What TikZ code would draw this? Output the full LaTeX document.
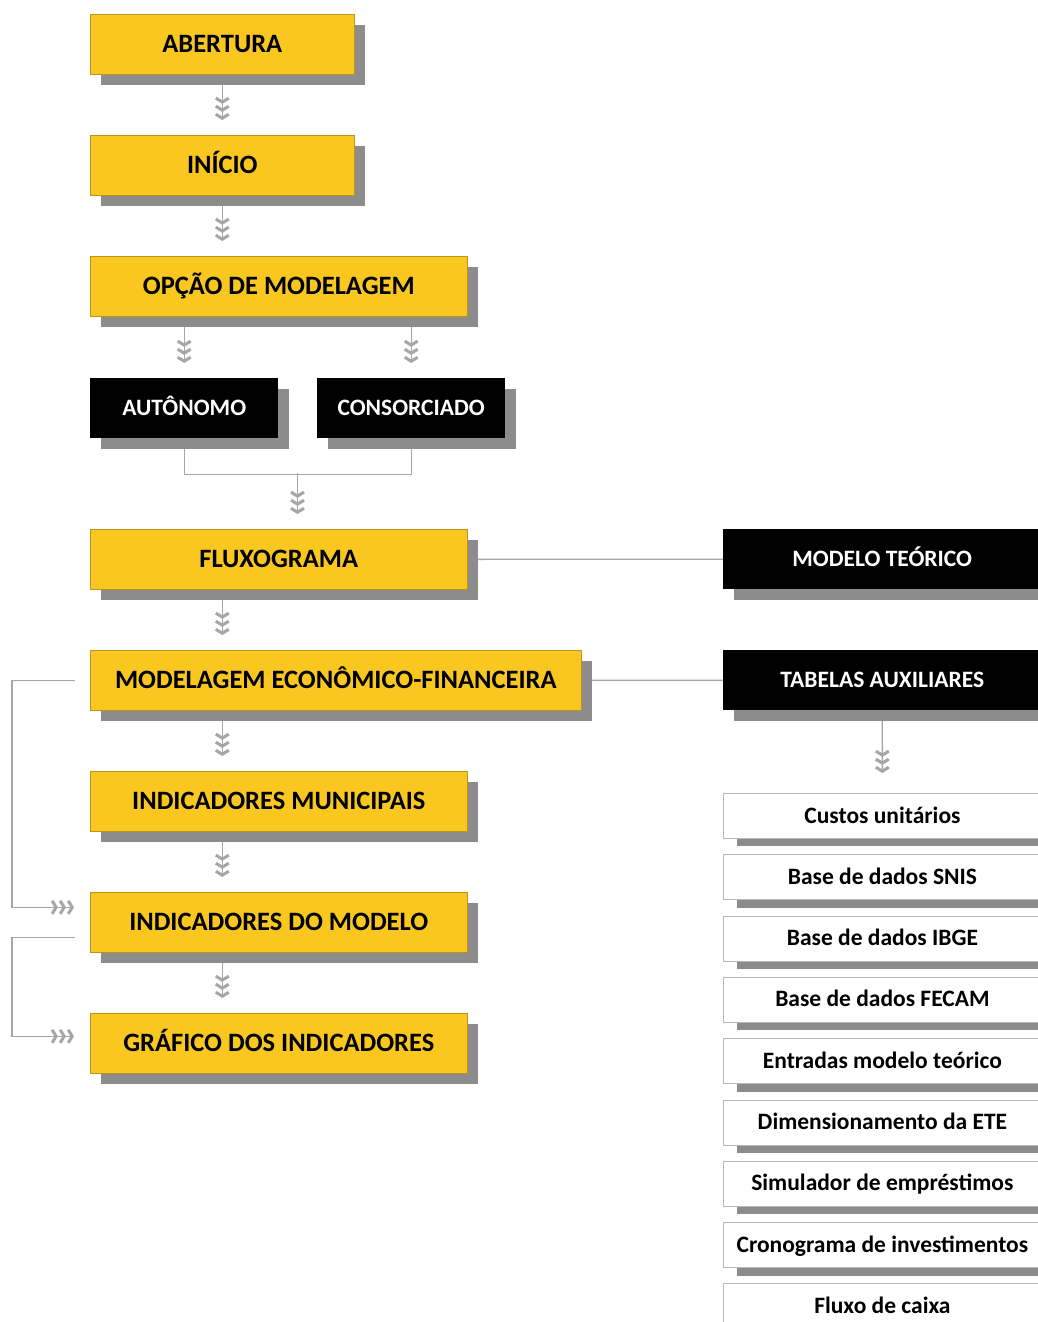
\documentclass[tikz,border=0pt]{standalone}
\usepackage{fontspec}
\setmainfont{Carlito}
\usetikzlibrary{arrows.meta, positioning, shadows, backgrounds}
\definecolor{amarelo}{HTML}{F9C71F}
\definecolor{sombra}{HTML}{8C8C8C}
\definecolor{linha}{HTML}{A6A6A6}

\begin{document}
\begin{tikzpicture}[x=1pt, y=-1pt,
    chev/.tip={Straight Barb[length=4pt, width=13pt, line width=3pt]},
    caixa/.style={anchor=north west, inner sep=0pt},
    amarela/.style={caixa, draw=amarelo!75!black, line width=0.6pt, fill=amarelo, minimum height=60pt, text height=21.2pt, text depth=4.2pt, font=\fontsize{26.5}{30}\selectfont\bfseries, drop shadow={shadow xshift=11pt, shadow yshift=-11pt, fill=sombra, opacity=1}},
    preta/.style={caixa, fill=black, text=white, minimum height=60pt, text height=18.8pt, text depth=3.8pt, font=\fontsize{23.5}{28}\selectfont\bfseries, drop shadow={shadow xshift=11pt, shadow yshift=-11pt, fill=sombra, opacity=1}},
    branca/.style={caixa, draw=linha!80, line width=0.8pt, fill=white, minimum width=318pt, minimum height=45pt, text height=18.8pt, text depth=4.6pt, font=\fontsize{23.5}{28}\selectfont\bfseries, drop shadow={shadow xshift=14pt, shadow yshift=-8pt, fill=sombra, opacity=1}},
    liga/.style={draw=linha, line width=1.4pt},
    seta/.style={liga, -{chev[sep=0.8pt]chev[sep=0.8pt]chev}, shorten >=15pt}
]
    \path[use as bounding box] (0,0) rectangle (1038,1322);
    \clip (0,0) rectangle (1038,1322);

    % Main column
    \node[amarela, minimum width=264pt] (abertura) at (90,14) {ABERTURA};
    \node[amarela, minimum width=264pt] (inicio) at (90,135) {INÍCIO};
    \node[amarela, minimum width=377pt] (opcao) at (90,256) {OPÇÃO DE MODELAGEM};
    \node[preta, minimum width=188pt] (autonomo) at (90,378) {AUTÔNOMO};
    \node[preta, minimum width=188pt] (consorciado) at (317,378) {CONSORCIADO};
    \node[amarela, minimum width=377pt] (fluxo) at (90,529) {FLUXOGRAMA};
    \node[amarela, minimum width=491pt] (modelagem) at (90,650) {MODELAGEM ECONÔMICO-FINANCEIRA};
    \node[amarela, minimum width=377pt] (municipais) at (90,771) {INDICADORES MUNICIPAIS};
    \node[amarela, minimum width=377pt] (modelo) at (90,892) {INDICADORES DO MODELO};
    \node[amarela, minimum width=377pt] (grafico) at (90,1013) {GRÁFICO DOS INDICADORES};

    % Right column
    \node[preta, minimum width=318pt] (teorico) at (723,529) {MODELO TEÓRICO};
    \node[preta, minimum width=318pt] (tabelas) at (723,650) {TABELAS AUXILIARES};

    \node[branca] (custos) at (723,793) {Custos unitários};
    \node[branca, below=15.5pt of custos] (snis) {Base de dados SNIS};
    \node[branca, below=15.5pt of snis] (ibge) {Base de dados IBGE};
    \node[branca, below=15.5pt of ibge] (fecam) {Base de dados FECAM};
    \node[branca, below=15.5pt of fecam] (entradas) {Entradas modelo teórico};
    \node[branca, below=15.5pt of entradas] (ete) {Dimensionamento da ETE};
    \node[branca, below=15.5pt of ete] (simulador) {Simulador de empréstimos};
    \node[branca, below=15.5pt of simulador] (cronograma) {Cronograma de investimentos};
    \node[branca, below=15.5pt of cronograma] (caixa) {Fluxo de caixa};

    % Connectors
    \begin{scope}[on background layer]
        \fill[white] (0,0) rectangle (1038,1322);

        \draw[seta] (abertura.south) -- (inicio.north);
        \draw[seta] (inicio.south) -- (inicio.south |- opcao.north);
        \draw[seta] (autonomo |- opcao.south) -- (autonomo.north);
        \draw[seta] (consorciado |- opcao.south) -- (consorciado.north);

        \draw[liga] (autonomo.south) -- ++(0,36) -| (consorciado.south);
        \coordinate (juncao) at (297.5,473);
        \draw[seta] (juncao) -- (juncao |- fluxo.north);

        \draw[seta] (fluxo.south -| inicio) -- (modelagem.north -| inicio);
        \draw[seta] (modelagem.south -| inicio) -- (municipais.north -| inicio);
        \draw[seta] (municipais.south -| inicio) -- (modelo.north -| inicio);
        \draw[seta] (modelo.south -| inicio) -- (grafico.north -| inicio);

        \draw[liga] (fluxo.east) -- (teorico.west);
        \draw[liga] (modelagem.east) -- (tabelas.west);
        \draw[seta, shorten >=20pt] (tabelas.south) -- (custos.north);

        % Feedback on the left
        \draw[seta, shorten <=15pt, shorten >=16pt] (modelagem.west) -- ++(-78,0) |- ([yshift=15pt]modelo.west);
        \draw[seta, shorten <=15pt, shorten >=16pt] ([yshift=-15pt]modelo.west) -- ++(-78,0) |- ([yshift=7pt]grafico.west);
    \end{scope}
\end{tikzpicture}
\end{document}
